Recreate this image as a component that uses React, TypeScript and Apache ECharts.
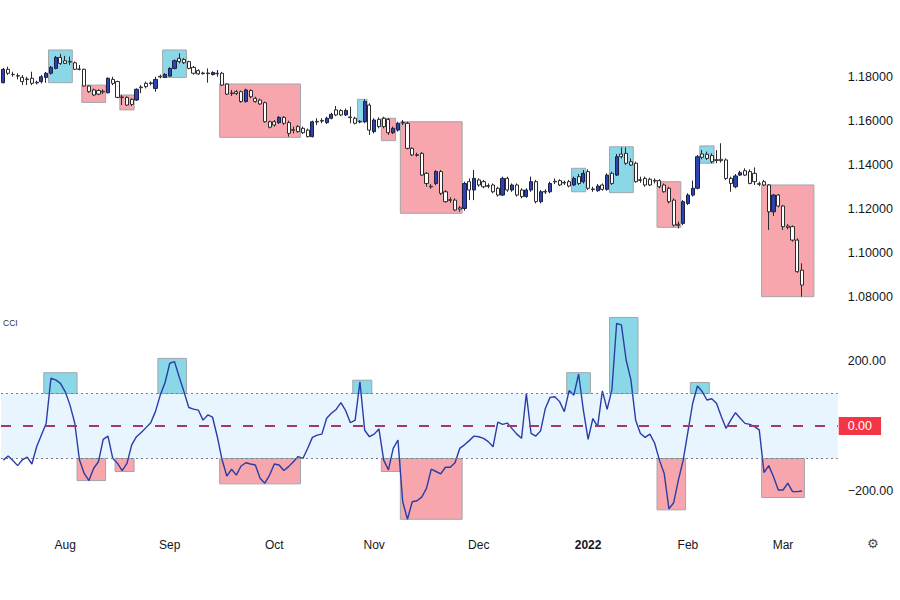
import React, { useEffect, useRef } from "react";
import * as echarts from "echarts";

// ---------- data ----------
const FIRST_DAY = { year: 2021, month: 6, day: 14 }; // 14 Jul 2021 (first bar)
const SLOT_COUNT = 176; // trading-day slots on the axis (169 bars + empty right margin)
const MONTH_NAMES = ["Jan", "Feb", "Mar", "Apr", "May", "Jun", "Jul", "Aug", "Sep", "Oct", "Nov", "Dec"];

// daily bars: [open, high, low, close]
const candles: number[][] = [
  [1.1775, 1.1842, 1.1772, 1.1836], [1.1836, 1.1848, 1.181, 1.1818], [1.1813, 1.1825, 1.1802, 1.1812],
  [1.1807, 1.1818, 1.179, 1.1805], [1.1799, 1.181, 1.1764, 1.178], [1.1792, 1.1802, 1.1764, 1.1789],
  [1.1795, 1.1825, 1.1764, 1.1772], [1.1777, 1.1784, 1.1767, 1.1774], [1.178, 1.181, 1.1772, 1.1802],
  [1.1799, 1.1824, 1.1775, 1.1818], [1.1818, 1.1851, 1.1812, 1.1845], [1.184, 1.1897, 1.1836, 1.189],
  [1.189, 1.1906, 1.1856, 1.1863], [1.1875, 1.1897, 1.186, 1.1863], [1.1872, 1.1894, 1.1856, 1.1869],
  [1.1866, 1.1872, 1.1833, 1.1836], [1.1837, 1.1856, 1.1831, 1.1836], [1.1836, 1.1839, 1.1757, 1.176],
  [1.176, 1.1763, 1.1729, 1.1734], [1.1742, 1.1748, 1.1714, 1.1719], [1.1739, 1.1745, 1.1718, 1.1723],
  [1.1736, 1.1745, 1.1723, 1.1733], [1.1729, 1.1799, 1.1726, 1.1795], [1.179, 1.1802, 1.1764, 1.1772],
  [1.178, 1.1784, 1.1704, 1.1708], [1.171, 1.1719, 1.1673, 1.1707], [1.1708, 1.1713, 1.1669, 1.1673],
  [1.1699, 1.1704, 1.1669, 1.1676], [1.1696, 1.1749, 1.1692, 1.1745], [1.1755, 1.1764, 1.1727, 1.1752],
  [1.1772, 1.178, 1.1749, 1.1757], [1.1774, 1.1781, 1.1763, 1.1771], [1.1749, 1.1802, 1.1734, 1.179],
  [1.1804, 1.1812, 1.1795, 1.1801], [1.1799, 1.1818, 1.1796, 1.1813], [1.1805, 1.1845, 1.1802, 1.184],
  [1.184, 1.1881, 1.1836, 1.1875], [1.1886, 1.1909, 1.1863, 1.1871], [1.1881, 1.1887, 1.186, 1.1866],
  [1.1871, 1.1875, 1.1836, 1.184], [1.1845, 1.1851, 1.1812, 1.1818], [1.183, 1.1836, 1.181, 1.1815],
  [1.1819, 1.1825, 1.1812, 1.1816], [1.1819, 1.184, 1.1775, 1.1816], [1.1812, 1.1827, 1.1808, 1.1821],
  [1.1818, 1.1833, 1.1802, 1.1816], [1.1818, 1.1824, 1.176, 1.1764], [1.1769, 1.1772, 1.1719, 1.1723],
  [1.1728, 1.1742, 1.1714, 1.1725], [1.1734, 1.1742, 1.1719, 1.1726], [1.1734, 1.1739, 1.1684, 1.1689],
  [1.1689, 1.1748, 1.1684, 1.1742], [1.1739, 1.1745, 1.1704, 1.1711], [1.1704, 1.1711, 1.1684, 1.1689],
  [1.1696, 1.1702, 1.1673, 1.1678], [1.1684, 1.1689, 1.1593, 1.1597], [1.1597, 1.1602, 1.1567, 1.1572],
  [1.1597, 1.1605, 1.1575, 1.1582], [1.1593, 1.1623, 1.1587, 1.1617], [1.1617, 1.1623, 1.1582, 1.159],
  [1.1593, 1.1602, 1.1529, 1.1544], [1.1561, 1.1575, 1.1544, 1.1558], [1.1575, 1.1582, 1.1547, 1.1552],
  [1.1567, 1.1575, 1.1541, 1.1547], [1.1559, 1.1566, 1.1526, 1.1529], [1.1529, 1.1602, 1.1526, 1.1597],
  [1.1599, 1.1613, 1.1582, 1.1596], [1.1603, 1.1613, 1.159, 1.16], [1.1593, 1.162, 1.1587, 1.1613],
  [1.1613, 1.1638, 1.1608, 1.1631], [1.1651, 1.1669, 1.1623, 1.1628], [1.1648, 1.1654, 1.1623, 1.1628],
  [1.1628, 1.1657, 1.1623, 1.1648], [1.1619, 1.1666, 1.159, 1.1616], [1.1613, 1.162, 1.1585, 1.159],
  [1.1599, 1.1605, 1.159, 1.1596], [1.1597, 1.1699, 1.159, 1.1689], [1.1673, 1.1681, 1.1537, 1.1559],
  [1.1552, 1.1613, 1.1544, 1.1605], [1.1608, 1.1617, 1.1567, 1.1575], [1.1613, 1.162, 1.1567, 1.1575],
  [1.1608, 1.1614, 1.1537, 1.1547], [1.1547, 1.1575, 1.1541, 1.1567], [1.1559, 1.1597, 1.1552, 1.159],
  [1.1594, 1.1605, 1.1582, 1.1591], [1.159, 1.1597, 1.1471, 1.1476], [1.1476, 1.148, 1.1441, 1.1446],
  [1.1447, 1.1456, 1.1438, 1.1444], [1.1453, 1.1459, 1.135, 1.1354], [1.1362, 1.1368, 1.1301, 1.1316],
  [1.1303, 1.1313, 1.1292, 1.13], [1.1316, 1.1377, 1.1308, 1.137], [1.137, 1.1377, 1.1263, 1.1271],
  [1.1278, 1.1286, 1.1228, 1.1233], [1.1242, 1.1253, 1.1228, 1.1239], [1.124, 1.1248, 1.119, 1.1195],
  [1.1205, 1.1213, 1.1187, 1.1199], [1.1202, 1.1324, 1.1192, 1.1316], [1.1324, 1.1339, 1.124, 1.1286],
  [1.1286, 1.1377, 1.124, 1.1339], [1.1332, 1.1339, 1.1301, 1.1309], [1.1324, 1.1332, 1.1294, 1.1301],
  [1.1306, 1.1316, 1.1294, 1.1303], [1.1309, 1.1316, 1.1271, 1.1278], [1.1294, 1.1301, 1.1256, 1.1263],
  [1.1263, 1.1347, 1.1259, 1.1339], [1.1339, 1.1347, 1.1278, 1.1286], [1.1286, 1.1316, 1.1278, 1.1309],
  [1.1309, 1.1316, 1.1256, 1.1263], [1.1286, 1.1294, 1.1248, 1.1256], [1.1256, 1.1294, 1.1251, 1.1286],
  [1.1286, 1.1347, 1.1278, 1.1324], [1.1324, 1.1332, 1.1225, 1.1233], [1.1233, 1.1286, 1.1225, 1.1278],
  [1.128, 1.1289, 1.1268, 1.1277], [1.1278, 1.1324, 1.1271, 1.1316], [1.1326, 1.1339, 1.1313, 1.1323],
  [1.1329, 1.1335, 1.1304, 1.1309], [1.1321, 1.1329, 1.1309, 1.1318], [1.1324, 1.1332, 1.1298, 1.1304],
  [1.1309, 1.1347, 1.1304, 1.1339], [1.1347, 1.1359, 1.1309, 1.1316], [1.1324, 1.1377, 1.1316, 1.1362],
  [1.137, 1.138, 1.1286, 1.1294], [1.1291, 1.1301, 1.1278, 1.1288], [1.1283, 1.1313, 1.1278, 1.1304],
  [1.1309, 1.1316, 1.1283, 1.1289], [1.1289, 1.1362, 1.1283, 1.1354], [1.1362, 1.137, 1.1309, 1.1316],
  [1.1354, 1.145, 1.135, 1.1438], [1.145, 1.148, 1.143, 1.1438], [1.1453, 1.148, 1.14, 1.1408],
  [1.1415, 1.143, 1.1395, 1.14], [1.1408, 1.1415, 1.1319, 1.1324], [1.1333, 1.1347, 1.1319, 1.133],
  [1.1339, 1.1347, 1.1301, 1.1309], [1.1335, 1.1342, 1.1304, 1.1309], [1.133, 1.1339, 1.1316, 1.1327],
  [1.1329, 1.1335, 1.1294, 1.1301], [1.1309, 1.1316, 1.1274, 1.1278], [1.1294, 1.1301, 1.1225, 1.1233],
  [1.124, 1.1248, 1.1119, 1.1126], [1.113, 1.1142, 1.1111, 1.1125], [1.1134, 1.124, 1.1126, 1.1233],
  [1.1225, 1.1271, 1.1218, 1.1263], [1.1263, 1.1329, 1.1256, 1.1294], [1.1294, 1.1446, 1.1289, 1.1438],
  [1.145, 1.1468, 1.1426, 1.1435], [1.1449, 1.1461, 1.1423, 1.143], [1.1443, 1.1453, 1.1408, 1.1415],
  [1.1424, 1.1468, 1.1408, 1.1421], [1.1426, 1.1499, 1.1411, 1.142], [1.1423, 1.143, 1.1332, 1.1339],
  [1.1339, 1.1347, 1.1278, 1.1316], [1.1301, 1.1359, 1.1294, 1.135], [1.1354, 1.1374, 1.135, 1.1365],
  [1.1374, 1.1385, 1.135, 1.1354], [1.137, 1.138, 1.1312, 1.1316], [1.1362, 1.1389, 1.1309, 1.1324],
  [1.1315, 1.1324, 1.1304, 1.1312], [1.1324, 1.1332, 1.1304, 1.1309], [1.1309, 1.1313, 1.1104, 1.1187],
  [1.1187, 1.1268, 1.1168, 1.1263], [1.1263, 1.1268, 1.1207, 1.1213], [1.1213, 1.1218, 1.1104, 1.1119],
  [1.1122, 1.1131, 1.1107, 1.1116], [1.1119, 1.1125, 1.1051, 1.1058], [1.1058, 1.1066, 1.0909, 1.0914],
  [1.0921, 1.0952, 1.08, 1.0853],
];

// Commodity Channel Index, one value per bar
const cci: number[] = [
  -105, -92, -106, -122, -104, -96, -117, -64, -28, 8,
  147, 142, 131, 106, 65, 10, -104, -146, -168, -130,
  -110, -41, -31, -99, -115, -137, -115, -58, -33, -20,
  -5, 10, 45, 95, 133, 193, 198, 150, 105, 57,
  52, 49, 18, 34, 27, -33, -104, -154, -133, -151,
  -123, -113, -117, -120, -161, -176, -151, -117, -120, -137,
  -125, -110, -94, -100, -69, -35, -28, -25, 24, 39,
  51, 72, 47, 10, 18, 136, -13, -33, -25, -9,
  -105, -135, -69, -43, -233, -287, -233, -230, -219, -192,
  -133, -140, -147, -127, -127, -113, -69, -58, -45, -31,
  -33, -38, -48, -64, 12, 5, 9, -8, -25, -38,
  100, -23, -31, -15, 54, 88, 90, 75, 44, 109,
  95, 160, 49, -41, 23, -2, 108, 51, 111, 316,
  311, 203, 142, 18, -23, -35, -25, -53, -105, -146,
  -255, -236, -166, -105, -17, 70, 123, 106, 80, 84,
  70, 30, -7, 18, 41, 24, 8, 5, -2, -12,
  -143, -122, -156, -197, -197, -176, -202, -202, -200,
];

// highlighted stretches: [first bar, last bar, low, high, kind (1 = overbought, 0 = oversold)]
const priceBoxes: number[][] = [
  [10, 14, 1.1775, 1.1924, 1],
  [17, 21, 1.1685, 1.1764, 0],
  [25, 27, 1.1651, 1.1719, 0],
  [34, 38, 1.1799, 1.1924, 1],
  [46, 62, 1.1526, 1.1769, 0],
  [75, 76, 1.1597, 1.1699, 1],
  [80, 82, 1.1511, 1.1613, 0],
  [84, 96, 1.118, 1.1597, 0],
  [120, 122, 1.1278, 1.1385, 1],
  [128, 132, 1.1274, 1.1483, 1],
  [138, 142, 1.1116, 1.1324, 0],
  [147, 149, 1.1408, 1.1487, 1],
  [160, 170, 1.08, 1.1309, 0],
];
const cciBoxes: number[][] = [
  [9, 15, 100, 164, 1],
  [16, 21, -168, -100, 0],
  [24, 27, -140, -100, 0],
  [33, 38, 100, 208, 1],
  [46, 62, -178, -100, 0],
  [74, 77, 100, 141, 1],
  [80, 83, -140, -100, 0],
  [84, 96, -287, -100, 0],
  [119, 123, 100, 164, 1],
  [128, 133, 100, 334, 1],
  [138, 143, -258, -100, 0],
  [145, 148, 100, 134, 1],
  [160, 168, -220, -100, 0],
];

const PRICE_LABELS = [1.08, 1.1, 1.12, 1.14, 1.16, 1.18];
const CCI_LABELS = [-200, 200];
const CCI_BAND = [-100, 100];
const CCI_MID = 0;

// ---------- helpers ----------
function tradingDays(): string[] {
  const out: string[] = [];
  const d = new Date(Date.UTC(FIRST_DAY.year, FIRST_DAY.month, FIRST_DAY.day));
  while (out.length < SLOT_COUNT) {
    const wd = d.getUTCDay();
    if (wd !== 0 && wd !== 6) out.push(d.toISOString().slice(0, 10));
    d.setUTCDate(d.getUTCDate() + 1);
  }
  return out;
}

const CYAN = "#8ad8e7";
const PINK = "#f7a6ad";
const BOX_STROKE = "#a2a5aa";
const TEXT = "#131722";
const FONT = "'Liberation Sans', Arial, sans-serif";

function boxRenderer(_params: any, api: any) {
  const s = api.value(0);
  const e = api.value(1);
  const lo = api.value(2);
  const hi = api.value(3);
  const kind = api.value(4);
  const bw = api.size([1, 0])[0];
  const a = api.coord([s, hi]);
  const b = api.coord([e, lo]);
  return {
    type: "rect",
    shape: { x: a[0] - bw / 2, y: a[1], width: b[0] - a[0] + bw, height: b[1] - a[1] },
    style: { fill: kind === 1 ? CYAN : PINK, stroke: BOX_STROKE, lineWidth: 1 },
  };
}

export default function App() {
  const ref = useRef<HTMLDivElement>(null);

  useEffect(() => {
    if (!ref.current) return;
    const chart = echarts.init(ref.current, undefined, { renderer: "svg" });
    const dates = tradingDays();
    const isMonthStart = (i: number) =>
      i > 0 && dates[i].slice(5, 7) !== dates[i - 1].slice(5, 7);
    const monthLabel = (value: string) => {
      const m = parseInt(value.slice(5, 7), 10) - 1;
      return m === 0 ? "{y|" + value.slice(0, 4) + "}" : MONTH_NAMES[m];
    };

    const option: any = {
      animation: false,
      backgroundColor: "#ffffff",
      textStyle: { fontFamily: FONT },
      grid: [
        { left: 1, right: 62.3, top: 33.3, height: 307.3 },
        { left: 1, right: 62.3, top: 296, height: 227.5 },
      ],
      xAxis: [
        {
          type: "category",
          gridIndex: 0,
          data: dates,
          boundaryGap: true,
          axisLine: { show: false },
          axisTick: { show: false },
          axisLabel: { show: false },
          splitLine: { show: false },
        },
        {
          type: "category",
          gridIndex: 1,
          data: dates,
          boundaryGap: true,
          axisLine: { show: false },
          axisTick: { show: false },
          splitLine: { show: false },
          axisLabel: {
            interval: (index: number) => isMonthStart(index),
            formatter: (value: string) => monthLabel(value),
            color: TEXT,
            fontSize: 12,
            fontFamily: FONT,
            margin: 15,
            rich: { y: { fontWeight: "bold", fontSize: 12, color: TEXT, fontFamily: FONT } },
          },
        },
      ],
      yAxis: [
        {
          type: "value",
          gridIndex: 0,
          position: "right",
          min: 1.06,
          max: 1.2,
          interval: 0.02,
          axisLine: { show: false },
          axisTick: { show: false },
          splitLine: { show: false },
          axisLabel: {
            margin: 10,
            color: TEXT,
            fontSize: 12.5,
            fontFamily: FONT,
            formatter: (v: number) =>
              PRICE_LABELS.some((p) => Math.abs(p - v) < 1e-6) ? v.toFixed(5) : "",
          },
        },
        {
          type: "value",
          gridIndex: 1,
          position: "right",
          min: -300,
          max: 400,
          interval: 100,
          axisLine: { show: false },
          axisTick: { show: false },
          splitLine: { show: false },
          axisLabel: {
            margin: 10,
            color: TEXT,
            fontSize: 12.5,
            fontFamily: FONT,
            formatter: (v: number) =>
              CCI_LABELS.includes(Math.round(v))
                ? (v < 0 ? "\u2212" : "") + Math.abs(v).toFixed(2)
                : "",
          },
        },
      ],
      series: [
        {
          type: "custom",
          name: "price zones",
          xAxisIndex: 0,
          yAxisIndex: 0,
          z: 1,
          silent: true,
          data: priceBoxes,
          encode: { x: [0, 1], y: [2, 3] },
          renderItem: boxRenderer,
        },
        {
          type: "candlestick",
          name: "EURUSD",
          xAxisIndex: 0,
          yAxisIndex: 0,
          z: 2,
          barWidth: 3.6,
          data: candles.map(([o, h, l, c]) => [o, c, l, h]),
          itemStyle: {
            color: "#2c44b3",
            color0: "#ffffff",
            borderColor: "#1d2040",
            borderColor0: "#2b2b2b",
            borderWidth: 1,
          },
        },
        {
          type: "custom",
          name: "cci zones",
          xAxisIndex: 1,
          yAxisIndex: 1,
          z: 1,
          silent: true,
          data: cciBoxes,
          encode: { x: [0, 1], y: [2, 3] },
          renderItem: boxRenderer,
        },
        {
          type: "line",
          name: "CCI",
          xAxisIndex: 1,
          yAxisIndex: 1,
          z: 3,
          data: cci,
          symbol: "none",
          lineStyle: { color: "#2a3da6", width: 1.4 },
          markArea: {
            silent: true,
            itemStyle: { color: "rgba(33,150,243,0.1)" },
            data: [[{ yAxis: CCI_BAND[0] }, { yAxis: CCI_BAND[1] }]],
          },
          markLine: {
            silent: true,
            symbol: ["none", "none"],
            data: [
              {
                yAxis: CCI_BAND[1],
                lineStyle: { type: [2, 3], color: "#787b86", width: 1 },
                label: { show: false },
              },
              {
                yAxis: CCI_BAND[0],
                lineStyle: { type: [2, 3], color: "#787b86", width: 1 },
                label: { show: false },
              },
              {
                yAxis: CCI_MID,
                lineStyle: { type: [10, 12], color: "#a3386a", width: 2 },
                label: {
                  show: true,
                  position: "end",
                  distance: 1,
                  formatter: CCI_MID.toFixed(2),
                  color: "#ffffff",
                  backgroundColor: "#f23645",
                  padding: [3, 9, 2, 9],
                  lineHeight: 13,
                  fontSize: 12.5,
                  fontFamily: FONT,
                },
              },
            ],
          },
        },
      ],
      graphic: [
        {
          type: "text",
          left: 3,
          top: 318,
          style: { text: "CCI", fill: "#333333", fontSize: 8.5, fontFamily: FONT },
        },
        {
          type: "text",
          left: 867,
          top: 537,
          style: { text: "\u2699", fill: "#4a4a4a", fontSize: 13, fontFamily: "DejaVu Sans" },
        },
      ],
    };

    chart.setOption(option);
    return () => chart.dispose();
  }, []);

  return (
    <div
      ref={ref}
      style={{ position: "fixed", left: 0, top: 0, width: 900, height: 600, background: "#fff" }}
    />
  );
}
